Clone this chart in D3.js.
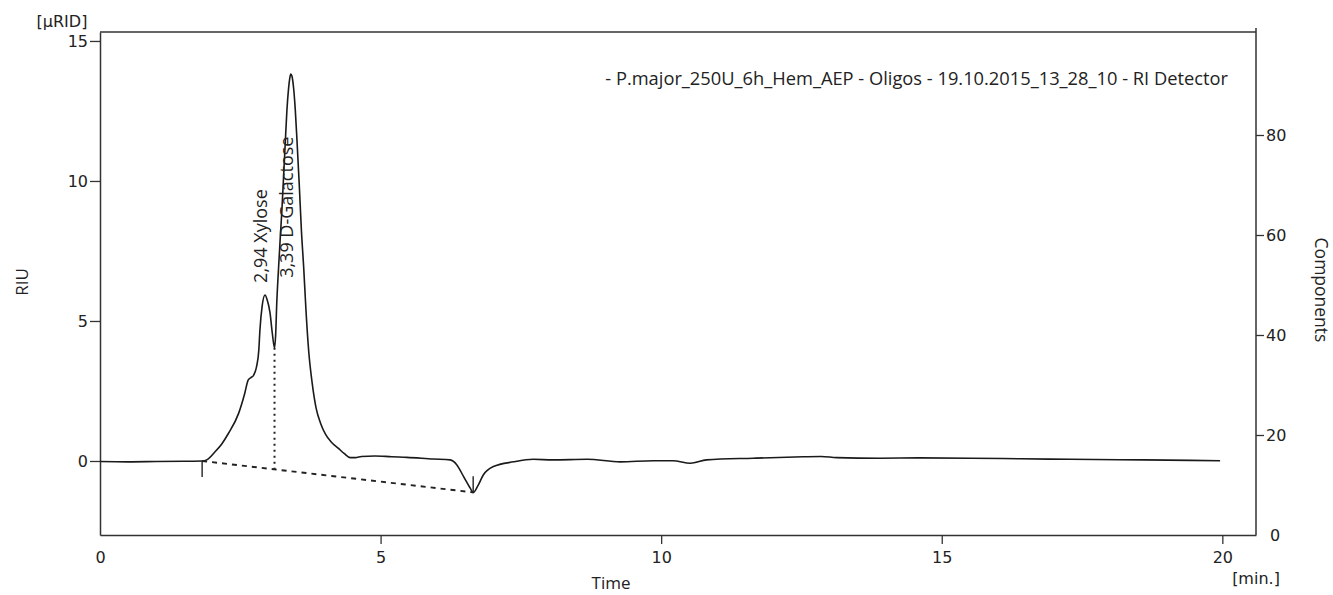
<!DOCTYPE html>
<html>
<head>
<meta charset="utf-8">
<script src="https://cdn.jsdelivr.net/npm/d3@7"></script>
<style>
  html, body { margin: 0; padding: 0; background: #fff; }
  svg { display: block; }
</style>
</head>
<body>
<svg id="chart" width="1333" height="595"></svg>
<script>
// ---- data ----
const timeMin = [0, 0.5, 1.0, 1.5, 1.82, 1.91, 2.05, 2.17, 2.29, 2.47, 2.58, 2.64, 2.69, 2.73, 2.79, 2.83, 2.85, 2.89, 2.94, 2.98, 3.03, 3.07, 3.11, 3.13, 3.15, 3.18, 3.21, 3.24, 3.27, 3.30, 3.33, 3.36, 3.38, 3.40, 3.42, 3.45, 3.48, 3.51, 3.55, 3.59, 3.63, 3.67, 3.72, 3.78, 3.85, 3.93, 4.02, 4.12, 4.25, 4.35, 4.46, 4.55, 4.66, 4.9, 5.2, 5.47, 5.94, 6.24, 6.36, 6.48, 6.6, 6.65, 6.74, 6.83, 7.01, 7.37, 7.72, 8.07, 8.68, 9.27, 9.86, 10.21, 10.52, 10.81, 11.64, 12.53, 12.85, 13.13, 13.9, 14.6, 15.51, 16.4, 17.29, 18.6, 19.96];
const riu =     [-0.02, -0.03, -0.02, -0.01, 0.0, 0.05, 0.33, 0.61, 0.99, 1.70, 2.42, 2.89, 2.98, 3.04, 3.37, 3.96, 4.68, 5.54, 5.93, 5.75, 5.29, 4.57, 4.04, 4.5, 5.64, 6.82, 7.9, 8.9, 10.1, 11.3, 12.5, 13.3, 13.65, 13.82, 13.75, 13.32, 12.54, 11.46, 9.9, 8.2, 6.9, 5.4, 3.9, 2.8, 1.9, 1.35, 0.95, 0.68, 0.45, 0.27, 0.12, 0.12, 0.16, 0.18, 0.15, 0.13, 0.07, 0.04, -0.14, -0.56, -0.98, -1.13, -0.86, -0.5, -0.2, -0.03, 0.06, 0.04, 0.06, -0.03, 0.01, 0.01, -0.08, 0.04, 0.10, 0.15, 0.16, 0.12, 0.10, 0.11, 0.10, 0.08, 0.06, 0.04, 0.01];

const peakTimes = [2.94, 3.39];
const peakLabels = ["2,94 Xylose", "3,39 D-Galactose"];
const peakLabelRiu = [6.36, 6.54];

// integration baseline: start, drop line, end
const baseTimes = [1.82, 6.65];
const baseRiu = [0.0, -1.12];
const dropTime = 3.11;
const dropRiu = 4.04;

const xTicks = [0, 5, 10, 15, 20];
const yTicks = [0, 5, 10, 15];
const compTicks = [0, 20, 40, 60, 80];

const legendText = "- P.major_250U_6h_Hem_AEP - Oligos - 19.10.2015_13_28_10 - RI Detector";

// ---- layout ----
const L = 100, R = 1256, T = 32, B = 535;
const svg = d3.select("#chart");

const x = d3.scaleLinear().domain([0, 20.6]).range([L, R]);
const y = d3.scaleLinear().domain([-2.643, 15.32]).range([B, T]);
const yc = d3.scaleLinear().domain([0, 100.6]).range([B, T]);

const axisColor = "#333";
const textColor = "#222";
const tickFont = "DejaVu Sans, sans-serif";
const labelFont = "'Open Sans', 'Noto Sans', sans-serif";

// frame (top line)
svg.append("line").attr("x1", L).attr("x2", R).attr("y1", T).attr("y2", T)
  .attr("stroke", axisColor).attr("stroke-width", 1.5);

// left axis
const gl = svg.append("g").attr("transform", `translate(${L},0)`)
  .call(d3.axisLeft(y).tickValues(yTicks).tickSize(10).tickPadding(2).tickSizeOuter(0));
// bottom axis
const gb = svg.append("g").attr("transform", `translate(0,${B})`)
  .call(d3.axisBottom(x).tickValues(xTicks).tickSize(9).tickPadding(8).tickSizeOuter(0));
// right axis
const gr = svg.append("g").attr("transform", `translate(${R},0)`)
  .call(d3.axisRight(yc).tickValues(compTicks).tickSize(8).tickPadding(2).tickSizeOuter(0));

[gl, gb, gr].forEach(g => {
  g.select(".domain").attr("stroke", axisColor).attr("stroke-width", 1.5);
  g.selectAll(".tick line").attr("stroke", axisColor).attr("stroke-width", 1.3);
  g.selectAll(".tick text").attr("fill", textColor).attr("font-family", tickFont).attr("font-size", 16);
});
gb.select(".tick line").attr("stroke", "none"); // 0 tick sits on the axis corner
gr.selectAll(".tick").filter(d => d === 0).select("line").attr("stroke", "none");
gr.selectAll(".tick").filter(d => d === 0).select("text").attr("dx", 4);
gr.select(".domain").attr("d", `M0,${T - 4}V${B}`);

// curve
const line = d3.line().x(d => x(d[0])).y(d => y(d[1])).curve(d3.curveMonotoneX);
svg.append("path").datum(timeMin.map((t, i) => [t, riu[i]]))
  .attr("d", line).attr("fill", "none").attr("stroke", "#1a1a1a").attr("stroke-width", 1.6);

// integration baseline (dashed)
svg.append("line")
  .attr("x1", x(baseTimes[0])).attr("y1", y(baseRiu[0]))
  .attr("x2", x(baseTimes[1])).attr("y2", y(baseRiu[1]))
  .attr("stroke", "#222").attr("stroke-width", 1.9).attr("stroke-dasharray", "5,5");

// drop line (dotted)
const dropBase = baseRiu[0] + (baseRiu[1] - baseRiu[0]) * (dropTime - baseTimes[0]) / (baseTimes[1] - baseTimes[0]);
svg.append("line")
  .attr("x1", x(dropTime)).attr("y1", y(dropRiu))
  .attr("x2", x(dropTime)).attr("y2", y(dropBase))
  .attr("stroke", "#222").attr("stroke-width", 2).attr("stroke-dasharray", "2,4");

// start / end markers
svg.append("line").attr("x1", x(baseTimes[0])).attr("x2", x(baseTimes[0]))
  .attr("y1", y(baseRiu[0])).attr("y2", y(baseRiu[0]) + 16)
  .attr("stroke", "#222").attr("stroke-width", 1.4);
svg.append("line").attr("x1", x(baseTimes[1])).attr("x2", x(baseTimes[1]))
  .attr("y1", y(baseRiu[1]) - 16).attr("y2", y(baseRiu[1]))
  .attr("stroke", "#222").attr("stroke-width", 1.4);

// peak labels (rotated)
peakTimes.forEach((t, i) => {
  const px = x(t) + 2.5, py = y(peakLabelRiu[i]);
  svg.append("text").attr("transform", `translate(${px},${py}) rotate(-90)`)
    .attr("font-family", labelFont).attr("font-size", 18).attr("fill", textColor)
    .text(peakLabels[i]);
});

// legend text
svg.append("text").attr("x", 1228).attr("y", 85).attr("text-anchor", "end")
  .attr("font-family", labelFont).attr("font-size", 18.3).attr("fill", textColor)
  .text(legendText);

// axis titles
svg.append("text").attr("x", 62).attr("y", 27).attr("text-anchor", "middle")
  .attr("font-family", tickFont).attr("font-size", 16).attr("fill", textColor).text("[μRID]");
svg.append("text").attr("transform", "translate(28,282) rotate(-90)").attr("text-anchor", "middle")
  .attr("font-family", labelFont).attr("font-size", 17).attr("fill", textColor).text("RIU");
svg.append("text").attr("x", 611).attr("y", 589).attr("text-anchor", "middle")
  .attr("font-family", labelFont).attr("font-size", 17).attr("fill", textColor).text("Time");
svg.append("text").attr("x", 1256).attr("y", 584).attr("text-anchor", "middle")
  .attr("font-family", tickFont).attr("font-size", 16).attr("fill", textColor).text("[min.]");
svg.append("text").attr("transform", "translate(1315,290) rotate(90)").attr("text-anchor", "middle")
  .attr("font-family", labelFont).attr("font-size", 17.5).attr("fill", textColor).text("Components");
</script>
</body>
</html>
